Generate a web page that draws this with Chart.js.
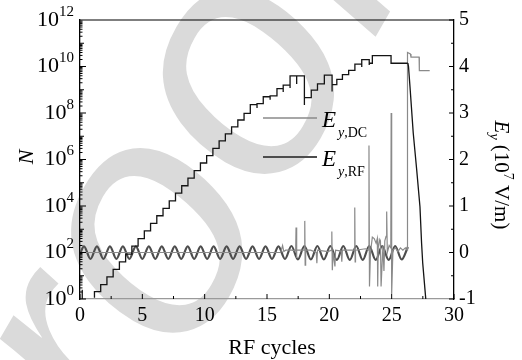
<!DOCTYPE html>
<html>
<head>
<meta charset="utf-8">
<script src="https://cdn.jsdelivr.net/npm/chart.js@4.4.1/dist/chart.umd.min.js"></script>
<style>
  html, body { margin: 0; padding: 0; background: #fff; }
</style>
</head>
<body>
<canvas id="chart" width="522" height="360"></canvas>
<script>
// axis ticks
const xTicks = [0, 5, 10, 15, 20, 25, 30];
const xMinor = [2.5, 7.5, 12.5, 17.5, 22.5, 27.5];
const nExponents = [0, 2, 4, 6, 8, 10, 12];
const eTicks = [-1, 0, 1, 2, 3, 4, 5];

// N (staircase), exponent of 10; null breaks the line
const nX =   [0.18, 0.18, 0.2, 0.6, 1.16, 1.66, 2.16, 2.66, 3.16, 3.66, 4.16, 4.66, 5.16, 5.66, 6.16, 6.66, 7.16, 7.66, 8.16, 8.66, 9.16, 9.66, 10.16, 10.66, 11.16, 11.66, 12.16, 12.66, 13.16, 13.66, 14.2, 14.2, 14.7, 15.25, 15.25, 15.8, 16.3, 16.3, 16.85, 16.85, 17.38, 17.38, 18.0, 18.0, 18.55, 19.05, 19.6, 20.22, 20.22, 20.6, 21.05, 21.55, 22.05, 22.6, 22.6, 23.2, 23.2, 23.45, 24.95, 24.95, 26.3];
const nExp = [-0.3, 0.4, -0.3, null, 0.05, 0.32, 0.62, 0.95, 1.27, 1.6, 1.93, 2.27, 2.6, 2.93, 3.25, 3.58, 3.9, 4.22, 4.55, 4.87, 5.2, 5.52, 5.85, 6.17, 6.48, 6.8, 7.1, 7.4, 7.7, 7.98, 8.36, 8.22, 8.4, 8.7, 8.57, 8.74, 9.05, 8.9, 9.2, 9.07, 9.6, 9.25, 9.6, 8.34, 8.66, 8.98, 9.25, 9.63, 8.92, 9.22, 9.45, 9.65, 9.83, 10.1, 9.98, 10.3, 10.06, 10.14, 10.47, 10.14, 10.14];
// N collapse at the end
const dropX =   [26.3, 26.35, 26.47, 26.73, 27.0, 27.27, 27.4, 27.49, 27.73, 27.76];
const dropExp = [10.14, 10.0, 9.13, 7.14, 5.6, 3.97, 2.4, 1.55, 0.04, -0.3];

// E_y,DC (10^7 V/m)
const dcX = [0, 16.1, 16.25, 16.35, 16.5, 17.0, 17.3, 17.33, 17.36, 17.4, 18.0, 18.03, 18.06, 18.1, 18.5, 18.95, 19.0, 19.05, 19.9, 20.17, 20.2, 20.24, 20.3, 20.45, 20.5, 20.95, 21.0, 21.05, 22.0, 22.04, 22.07, 22.1, 22.9, 23.15, 23.18, 23.22, 23.3, 23.45, 23.6, 23.75, 23.85, 23.88, 23.92, 24.05, 24.1, 24.15, 24.3, 24.38, 24.45, 24.55, 24.6, 24.65, 24.8, 24.93, 24.96, 25.0, 25.1, 25.3, 25.5, 25.7, 25.9, 26.1, 26.25, 26.27, 26.5, 26.55, 27.2, 27.22, 28.05];
const dcY = [0, 0, 0.15, 0.02, 0.05, 0.05, 0.03, 0.54, -0.12, 0.05, 0.05, 0.68, -0.27, 0.05, 0.05, 0.0, -0.23, 0.05, 0.02, 0.05, 0.45, -0.38, 0.0, -0.3, 0.05, 0.03, -0.2, 0.05, 0.05, 0.97, -0.2, 0.05, 0.08, 0.05, 2.3, -0.73, 0.0, 0.33, 0.3, 0.2, 0.3, -0.73, 0.1, 0.28, 0.25, -0.73, 0.15, -0.4, 0.25, 0.35, 0.88, 0.0, 0.15, 0.1, 3.0, -0.89, 0.05, 0.1, 0.02, 0.1, 0.05, 0.1, 0.05, 4.3, 4.27, 4.2, 4.2, 3.91, 3.91];

// E_y,RF (10^7 V/m): crests and troughs
const rfX = [0, 0.32, 0.84, 1.36, 1.88, 2.40, 2.92, 3.44, 3.96, 4.48, 5.00, 5.52, 6.04, 6.56, 7.08, 7.60, 8.12, 8.64, 9.16, 9.68, 10.20, 10.72, 11.24, 11.76, 12.28, 12.80, 13.32, 13.84, 14.36, 14.88, 15.40, 15.92, 16.44, 16.96, 17.48, 18.00, 18.52, 19.04, 19.56, 20.08, 20.60, 21.12, 21.64, 22.16, 22.68, 23.20, 23.72, 24.24, 24.76, 25.28, 25.80, 26.30];
const rfY = [-0.03, 0.13, -0.14, 0.13, -0.14, 0.13, -0.14, 0.13, -0.14, 0.13, -0.14, 0.13, -0.14, 0.13, -0.14, 0.13, -0.14, 0.13, -0.14, 0.13, -0.14, 0.13, -0.14, 0.13, -0.14, 0.13, -0.14, 0.13, -0.14, 0.13, -0.14, 0.13, -0.14, 0.14, -0.15, 0.14, -0.15, 0.14, -0.15, 0.14, -0.16, 0.14, -0.16, 0.14, -0.16, 0.14, -0.16, 0.14, -0.16, 0.14, -0.15, 0.12];

const serif = '"Liberation Serif", "Times New Roman", serif';

function pts(xs, ys) {
  return xs.map((x, i) => ({ x: x, y: ys[i] }));
}
function logPts(xs, es) {
  return xs.map((x, i) => ({ x: x, y: es[i] === null ? null : Math.pow(10, es[i]) }));
}

// draw text pieces one after another: [text, font, dy]
function richText(ctx, parts, x, y) {
  let cx = x;
  parts.forEach(p => {
    ctx.font = p[1];
    ctx.fillText(p[0], cx, y + (p[2] || 0));
    cx += ctx.measureText(p[0]).width;
  });
  return cx - x;
}
function richWidth(ctx, parts) {
  let w = 0;
  parts.forEach(p => { ctx.font = p[1]; w += ctx.measureText(p[0]).width; });
  return w;
}

function tick(ctx, x1, y1, x2, y2) {
  ctx.beginPath();
  ctx.moveTo(x1, y1);
  ctx.lineTo(x2, y2);
  ctx.stroke();
}

const decor = {
  id: 'decor',
  beforeDraw(chart) {
    const ctx = chart.ctx;
    ctx.save();
    ctx.fillStyle = '#fff';
    ctx.fillRect(0, 0, chart.width, chart.height);
    // "Proof" watermark, centred on the first "o"
    ctx.fillStyle = '#dadada';
    ctx.font = 'italic 330px "Liberation Sans", Arimo, Arial, sans-serif';
    ctx.textBaseline = 'alphabetic';
    ctx.textAlign = 'left';
    const word = ['P', 'r', 'o', 'o', 'f'];
    let s = 0;
    const orig = word.map(c => { const v = s; s += ctx.measureText(c).width; return v; });
    const mo = ctx.measureText('o');
    const ocu = (mo.actualBoundingBoxRight - mo.actualBoundingBoxLeft) / 2;
    const ocv = (mo.actualBoundingBoxAscent - mo.actualBoundingBoxDescent) / 2;
    ctx.translate(157, 240);
    ctx.rotate(-60 * Math.PI / 180);
    word.forEach((c, i) => ctx.fillText(c, orig[i] - orig[2] - ocu, ocv));
    ctx.restore();
  },
  afterDraw(chart) {
    const ctx = chart.ctx;
    const a = chart.chartArea;
    const sx = chart.scales.x, sy = chart.scales.y, sr = chart.scales.y2;
    ctx.save();
    ctx.strokeStyle = '#000';
    ctx.lineWidth = 1.2;
    tick(ctx, a.left, a.top, a.right, a.top);

    ctx.lineWidth = 1;
    xTicks.forEach(v => { const p = sx.getPixelForValue(v); tick(ctx, p, a.bottom, p, a.bottom - 5); });
    xMinor.forEach(v => { const p = sx.getPixelForValue(v); tick(ctx, p, a.bottom, p, a.bottom - 3); });
    for (let n = 0; n < 12; n++) {
      for (let m = 1; m <= 9; m++) {
        const p = sy.getPixelForValue(m * Math.pow(10, n));
        let len = 2.5;
        if (m === 1) len = n % 2 === 0 ? 6 : 4;
        tick(ctx, a.left, p, a.left + len, p);
      }
    }
    eTicks.forEach(v => {
      let p = sr.getPixelForValue(v); tick(ctx, a.right, p, a.right - 5, p);
      if (v < 5) { p = sr.getPixelForValue(v + 0.5); tick(ctx, a.right, p, a.right - 3, p); }
    });

    // left tick labels 10^n
    ctx.fillStyle = '#000';
    ctx.textBaseline = 'middle';
    ctx.textAlign = 'left';
    nExponents.forEach(e => {
      const p = sy.getPixelForValue(Math.pow(10, e));
      const parts = [['10', '22px ' + serif, 0], [String(e), '15px ' + serif, -8]];
      const w = richWidth(ctx, parts);
      richText(ctx, parts, 74 - w, p);
    });

    // axis titles
    ctx.textBaseline = 'alphabetic';
    ctx.textAlign = 'center';
    ctx.font = '22px ' + serif;
    ctx.fillText('RF cycles', 272, 354);

    ctx.save();
    ctx.translate(33, 157);
    ctx.rotate(-Math.PI / 2);
    ctx.font = 'italic 22px ' + serif;
    ctx.fillText('N', 0, 0);
    ctx.restore();

    ctx.save();
    ctx.textAlign = 'left';
    ctx.translate(495, 175);
    ctx.rotate(Math.PI / 2);
    const rt = [['E', 'italic 21px ' + serif, 0], ['y', 'italic 14px ' + serif, 5],
                [' (10', '21px ' + serif, 0], ['7', '14px ' + serif, -9], [' V/m)', '21px ' + serif, 0]];
    richText(ctx, rt, -richWidth(ctx, rt) / 2, 0);
    ctx.restore();

    // legend
    ctx.textAlign = 'left';
    ctx.strokeStyle = '#8a8a8a';
    ctx.lineWidth = 1.3;
    tick(ctx, 263, 118, 317, 118);
    ctx.strokeStyle = '#4d4d4d';
    ctx.lineWidth = 2.2;
    tick(ctx, 263, 157, 317, 157);
    richText(ctx, [['E', 'italic 23px ' + serif, 0]], 322, 127);
    richText(ctx, [['y', 'italic 14px ' + serif, 0], [',DC', '14px ' + serif, 0]], 338, 137);
    richText(ctx, [['E', 'italic 23px ' + serif, 0]], 322, 166);
    richText(ctx, [['y', 'italic 14px ' + serif, 0], [',RF', '14px ' + serif, 0]], 338, 176);
    ctx.restore();
  }
};

new Chart(document.getElementById('chart'), {
  type: 'line',
  data: {
    datasets: [
      { label: 'N', data: logPts(nX, nExp), yAxisID: 'y', stepped: 'after', spanGaps: false,
        borderColor: '#141414', borderWidth: 1.3, pointRadius: 0, order: 0 },
      { label: 'N drop', data: logPts(dropX, dropExp), yAxisID: 'y',
        borderColor: '#141414', borderWidth: 1.3, pointRadius: 0, order: 0 },
      { label: 'Ey,DC', data: pts(dcX, dcY), yAxisID: 'y2',
        borderColor: '#8a8a8a', borderWidth: 1.2, pointRadius: 0, order: 1 },
      { label: 'Ey,RF', data: pts(rfX, rfY), yAxisID: 'y2', cubicInterpolationMode: 'monotone',
        borderColor: '#4d4d4d', borderWidth: 2.2, pointRadius: 0, order: 2 }
    ]
  },
  options: {
    responsive: false,
    animation: false,
    layout: { padding: { top: 20, left: 0, right: 0, bottom: 0 } },
    plugins: { legend: { display: false }, tooltip: { enabled: false } },
    scales: {
      x: {
        type: 'linear', min: 0, max: 30,
        afterBuildTicks: s => { s.ticks = xTicks.map(v => ({ value: v })); },
        afterFit: s => { s.height = 61; },
        grid: { display: false, drawTicks: false },
        border: { display: true, color: '#9a9a9a', width: 1.3 },
        ticks: { padding: 5, color: '#000', font: { family: serif, size: 20 }, maxRotation: 0 }
      },
      y: {
        type: 'logarithmic', position: 'left', min: 1, max: 1e12,
        afterBuildTicks: s => { s.ticks = nExponents.map(e => ({ value: Math.pow(10, e) })); },
        afterFit: s => { s.width = 80; },
        grid: { display: false, drawTicks: false },
        border: { display: true, color: '#000', width: 1.3 },
        ticks: { display: false }
      },
      y2: {
        type: 'linear', position: 'right', min: -1, max: 5,
        afterBuildTicks: s => { s.ticks = eTicks.map(v => ({ value: v })); },
        afterFit: s => { s.width = 68; },
        grid: { display: false, drawTicks: false },
        border: { display: true, color: '#000', width: 1.3 },
        ticks: { padding: 5, color: '#000', font: { family: serif, size: 20 } }
      }
    }
  },
  plugins: [decor]
});
</script>
</body>
</html>
